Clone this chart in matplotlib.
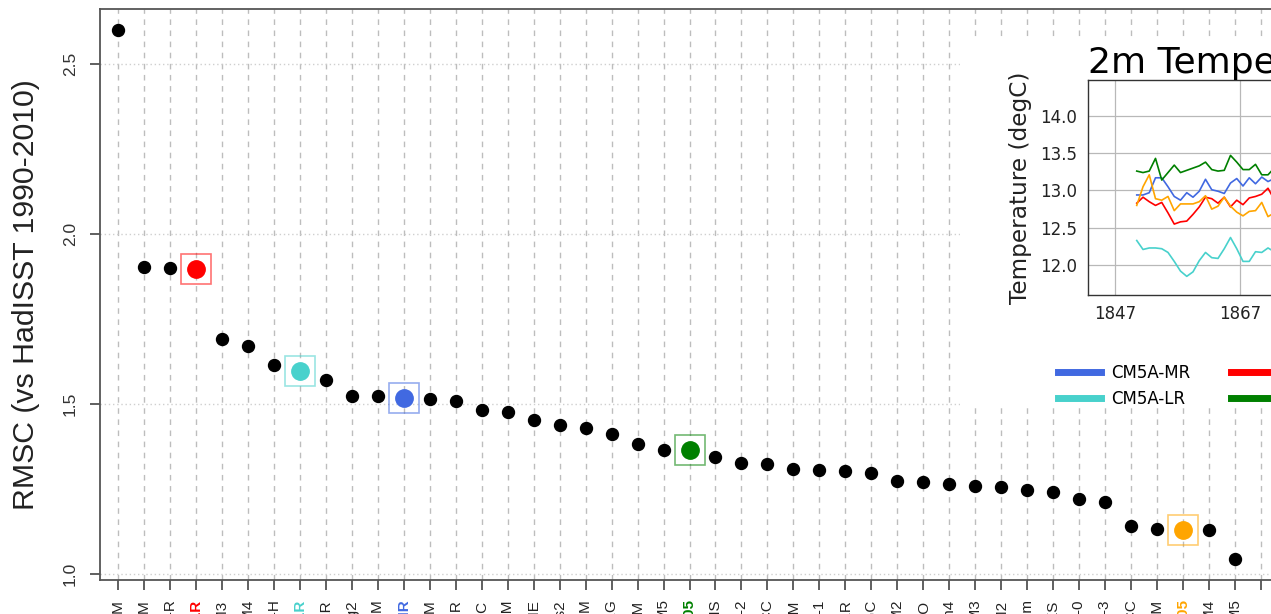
import numpy as np
import matplotlib
matplotlib.use("Agg")
import matplotlib.pyplot as plt
from matplotlib.patches import Rectangle
from matplotlib.lines import Line2D

# ---------------------------------------------------------------------------
# Ranking of models by RMSC against HadISST (1990-2010)
# ---------------------------------------------------------------------------
models = [
    "MIROC-ESM", "MIROC-ESM-CHEM", "GISS-E2-R", "IPSL-CM6A-LR", "HadCM3",
    "CCSM4", "GISS-E2-H", "IPSL-CM5A-LR", "MPI-ESM-LR", "FGOALS-g2",
    "GFDL-ESM2M", "IPSL-CM5A-MR", "NorESM1-M", "MPI-ESM-MR", "HadGEM2-CC",
    "CMCC-CM", "NorESM1-ME", "FGOALS-s2", "CMCC-CESM", "GFDL-ESM2G",
    "BNU-ESM", "CNRM-CM5", "IPSL-CM6-A05", "CMCC-CMS", "CNRM-CM5-2",
    "GISS-E2-H-CC", "FIO-ESM", "bcc-csm1-1", "IPSL-CM5B-LR", "CESM1-BGC",
    "CanESM2", "HadGEM2-AO", "inmcm4", "GFDL-CM3", "HadGEM2",
    "bcc-csm1-1-m", "HadGEM2-ES", "ACCESS1-0", "ACCESS1-3", "GISS-E2-R-CC",
    "CESM1-WACCM", "IPSL-CM6-B05", "CanCM4", "CESM1-CAM5", "",
]
rmsc = [
    2.600, 1.903, 1.900, 1.897, 1.691,
    1.671, 1.615, 1.597, 1.571, 1.524,
    1.524, 1.518, 1.515, 1.509, 1.482,
    1.476, 1.453, 1.438, 1.429, 1.412,
    1.382, 1.365, 1.365, 1.344, 1.326,
    1.324, 1.309, 1.306, 1.303, 1.297,
    1.274, 1.271, 1.265, 1.259, 1.256,
    1.247, 1.241, 1.221, 1.212, 1.141,
    1.132, 1.129, 1.129, 1.044, np.nan,
]
highlight = {
    "IPSL-CM6A-LR": "red",
    "IPSL-CM5A-LR": "mediumturquoise",
    "IPSL-CM5A-MR": "royalblue",
    "IPSL-CM6-A05": "green",
    "IPSL-CM6-B05": "orange",
}

# ---------------------------------------------------------------------------
# Global mean 2m temperature (annual means, plotted at mid-year)
# ---------------------------------------------------------------------------
years = np.arange(1850, 1873) + 0.5
tas_cm5a_mr = [12.94, 12.94, 12.97, 13.17, 13.17, 13.05, 12.92, 12.87, 12.97, 12.91,
               12.99, 13.15, 13.01, 12.99, 12.96, 13.10, 13.16, 13.06, 13.17, 13.09,
               13.18, 13.12, 13.16]
tas_cm5a_lr = [12.33, 12.21, 12.23, 12.23, 12.22, 12.17, 12.05, 11.92, 11.85, 11.91,
               12.06, 12.17, 12.10, 12.09, 12.22, 12.37, 12.22, 12.05, 12.05, 12.18,
               12.17, 12.23, 12.18]
tas_cm6a_lr = [12.83, 12.91, 12.85, 12.80, 12.84, 12.70, 12.55, 12.58, 12.59, 12.68,
               12.78, 12.91, 12.89, 12.83, 12.91, 12.78, 12.87, 12.81, 12.90, 12.92,
               12.95, 13.03, 12.88]
tas_a05 = [13.26, 13.24, 13.26, 13.43, 13.14, 13.24, 13.34, 13.24, 13.27, 13.30,
           13.33, 13.38, 13.28, 13.26, 13.27, 13.47, 13.38, 13.28, 13.28, 13.35,
           13.21, 13.21, 13.30]
tas_b05 = [12.80, 13.05, 13.21, 12.89, 12.87, 12.92, 12.73, 12.82, 12.82, 12.82,
           12.85, 12.93, 12.75, 12.79, 12.91, 12.79, 12.71, 12.66, 12.72, 12.73,
           12.84, 12.65, 12.70]
inset_series = [
    ("CM5A-MR", tas_cm5a_mr, "royalblue"),
    ("CM5A-LR", tas_cm5a_lr, "mediumturquoise"),
    ("CM6A-LR", tas_cm6a_lr, "red"),
    ("CM6-A05", tas_a05, "green"),
    ("CM6-B05", tas_b05, "orange"),
]

W, H = 1271, 614
fig = plt.figure(figsize=(W / 100, H / 100), dpi=100)
fig.patch.set_facecolor("white")


def px_box(x0, y0, x1, y1):
    """Pixel box (origin top-left) -> figure-fraction rectangle."""
    return [x0 / W, 1 - y1 / H, (x1 - x0) / W, (y1 - y0) / H]


rfont = "Liberation Sans"

# ------------------------------- main panel --------------------------------
ax = fig.add_axes(px_box(100, 9, 1279, 580))
n = len(models)
xpos = np.arange(n)
vals = np.array(rmsc, dtype=float)

ax.set_xlim(-0.69, n - 1 + 0.69)
ax.set_ylim(0.9824, 2.6618)

for spine in ax.spines.values():
    spine.set_color("#555555")
    spine.set_linewidth(1.3)

ax.set_xticks(xpos)
ax.set_xticklabels(models, rotation=90, fontsize=11, family=rfont, color="#222222")
ax.set_yticks([1.0, 1.5, 2.0, 2.5])
ax.set_yticklabels(["1.0", "1.5", "2.0", "2.5"], rotation=90, va="center",
                   fontsize=12.5, family=rfont, color="#333333")
ax.tick_params(axis="x", length=7, width=1.2, color="#444444", pad=7)
ax.tick_params(axis="y", length=7, width=1.2, color="#444444", pad=9)

for lab, name in zip(ax.get_xticklabels(), models):
    if name in highlight:
        lab.set_color(highlight[name])
        lab.set_fontweight("bold")

ax.set_axisbelow(True)
ax.grid(axis="x", linestyle=(0, (4, 4)), color="#bdbdbd", linewidth=1.0)
ax.grid(axis="y", linestyle=(0, (1, 2)), color="#cfcfcf", linewidth=1.0)

is_hl = np.array([m in highlight for m in models])
ax.plot(xpos[~is_hl], vals[~is_hl], "o", color="black", ms=8.6, zorder=3)
for name, c in highlight.items():
    i = models.index(name)
    ax.plot(xpos[i], vals[i], "s", mfc="none", mec=c, ms=21.5, mew=1.2,
            alpha=0.55, zorder=3)
    ax.plot(xpos[i], vals[i], "o", color=c, ms=12.5, zorder=4)

fig.text(26 / W, 1 - 295 / H, "RMSC (vs HadISST 1990-2010)", rotation=90,
         ha="center", va="center", fontsize=21.8, family=rfont, color="#222222")

# ------------------------------- inset panel -------------------------------
fig.add_artist(Rectangle((960 / W, 1 - 408 / H), 0.5, (408 - 37) / H,
                         transform=fig.transFigure, facecolor="white",
                         edgecolor="none", zorder=1))

ins = fig.add_axes(px_box(1088, 80, 1420, 295))
ins.set_zorder(2)
for label, series, c in inset_series:
    ins.plot(years, series, color=c, lw=1.2)
ins.set_xlim(1842.7, 1842.7 + 332 / 6.25)
ins.set_ylim(11.6, 14.48)
ins.set_xticks([1847, 1867, 1887])
ins.set_yticks([12.0, 12.5, 13.0, 13.5, 14.0])
ins.set_yticklabels(["12.0", "12.5", "13.0", "13.5", "14.0"])
ins.tick_params(length=0, labelsize=12, colors="#222222")
ins.tick_params(axis="y", pad=8)
ins.tick_params(axis="x", pad=7)
ins.grid(True, color="#b8b8b8", linewidth=0.9)
for spine in ins.spines.values():
    spine.set_color("#333333")
    spine.set_linewidth(1.0)
ins.set_ylabel("Temperature (degC)", fontsize=16.7, labelpad=6, color="#222222")
ins.set_title("2m Temperature", loc="left", fontsize=26, pad=5)

handles = [Line2D([], [], color=c, lw=5) for _, _, c in inset_series]
labels = [name for name, _, _ in inset_series]
fig.legend(handles, labels, ncol=3, loc="upper left",
           bbox_to_anchor=(1058 / W, 1 - 364 / H), frameon=False, fontsize=12,
           handlelength=2.6, handletextpad=0.6, columnspacing=2.4,
           labelspacing=0.45, borderpad=0, borderaxespad=0)

fig.savefig("out.png", dpi=100, facecolor="white")
